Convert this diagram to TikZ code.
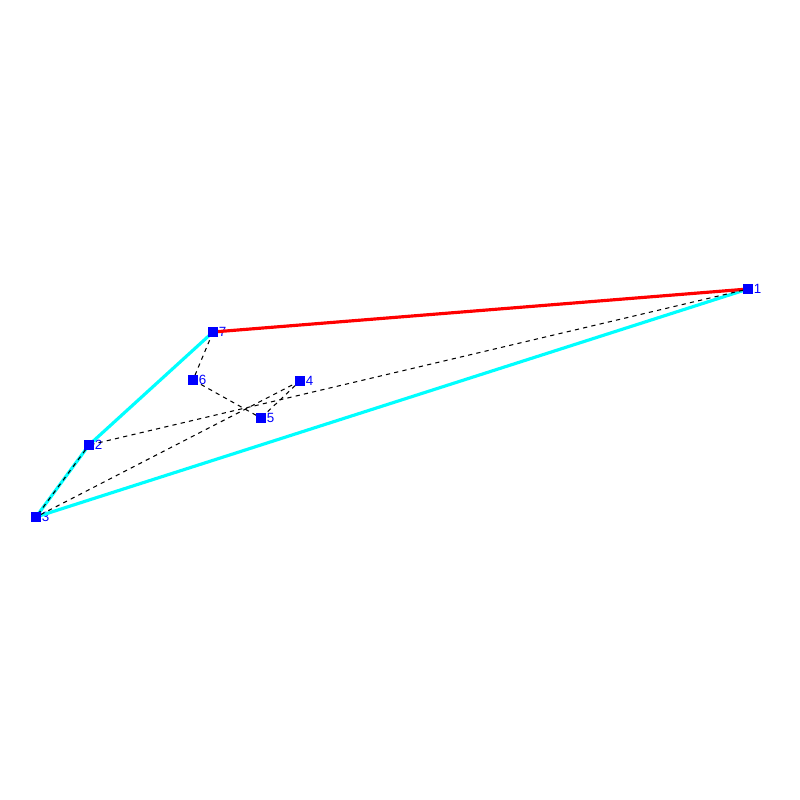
\documentclass[tikz,border=0pt]{standalone}
\usepackage{fontspec}
\setsansfont{Liberation Sans}
\definecolor{hullcyan}{RGB}{0,255,255}
\definecolor{ptblue}{RGB}{0,0,255}
\definecolor{bestred}{RGB}{255,0,0}
\newcommand{\pl}[1]{{\sffamily\fontsize{3.8}{4.5}\selectfont #1}}

\begin{document}
\begin{tikzpicture}[x=0.01cm,y=-0.01cm,
    pt/.style={rectangle,fill=ptblue,inner sep=0pt,minimum size=2.3pt,
      label={[text=ptblue,inner sep=0.4pt,xshift=-0.3pt]right:\pl{#1}}},
    hull/.style={hullcyan,line width=0.9pt},
    best/.style={bestred,line width=0.9pt},
    tour/.style={black,line width=0.3pt,dash pattern=on 1.2pt off 1.2pt}]
    \useasboundingbox (0,0) rectangle (800,800);
    \node[pt=1] (p1) at (748,289) {};
    \node[pt=2] (p2) at (89,445) {};
    \node[pt=3] (p3) at (36,517) {};
    \node[pt=4] (p4) at (300,381) {};
    \node[pt=5] (p5) at (261,418) {};
    \node[pt=6] (p6) at (193,380) {};
    \node[pt=7] (p7) at (213,332) {};
    \path[hull] (p7.center) edge (p2.center);
    \path[hull] (p2.center) edge (p3.center);
    \path[hull] (p3.center) edge (p1.center);
    \path[best] (p7.center) edge (p1.center);
    \path[tour] (p1) edge (p2);
    \path[tour] (p2) edge (p3);
    \path[tour] (p3) edge (p4);
    \path[tour] (p4) edge (p5);
    \path[tour] (p5) edge (p6);
    \path[tour] (p6) edge (p7);
    \foreach \i in {1,...,7} \fill[ptblue] (p\i.south west) rectangle (p\i.north east);
  \end{tikzpicture}
\end{document}
